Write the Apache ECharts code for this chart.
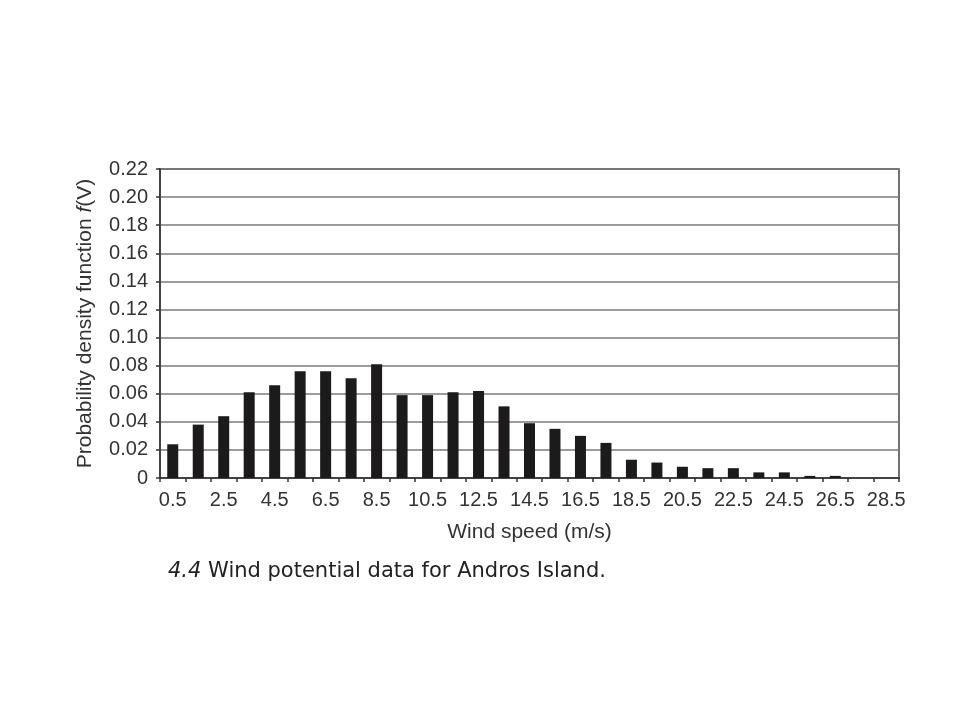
<!DOCTYPE html>
<html>
<head>
<meta charset="utf-8">
<script src="https://cdn.jsdelivr.net/npm/echarts@6/dist/echarts.min.js"></script>
<style>html,body{margin:0;padding:0;background:#fff;}#c{width:960px;height:720px;}</style>
</head>
<body>
<div id="c"></div>
<script>
const categories = ['0.5','1.5','2.5','3.5','4.5','5.5','6.5','7.5','8.5','9.5','10.5','11.5','12.5','13.5','14.5','15.5','16.5','17.5','18.5','19.5','20.5','21.5','22.5','23.5','24.5','25.5','26.5','27.5','28.5'];
const pdfValues = [0.024,0.038,0.044,0.061,0.066,0.076,0.076,0.071,0.081,0.059,0.059,0.061,0.062,0.051,0.039,0.035,0.030,0.025,0.013,0.011,0.008,0.007,0.007,0.004,0.004,0.0015,0.0015,0,0];
const xAxisTitle = 'Wind speed (m/s)';
const captionNumber = '4.4';
const captionText = ' Wind potential data for Andros Island.';

const font = 'Liberation Sans, Arial, Helvetica, sans-serif';
const capFont = 'DejaVu Sans, sans-serif';
const chart = echarts.init(document.getElementById('c'), null, {renderer: 'canvas'});
chart.setOption({
  backgroundColor: '#fff',
  animation: false,
  textStyle: {fontFamily: font},
  title: {
    text: '{i|' + captionNumber + '}{n|' + captionText + '}',
    left: 163, top: 556,
    textStyle: {
      fontWeight: 'normal',
      rich: {
        i: {fontStyle: 'italic', fontWeight: 'normal', fontSize: 21, color: '#222', fontFamily: capFont},
        n: {fontWeight: 'normal', fontSize: 21, color: '#222', fontFamily: capFont}
      }
    }
  },
  grid: {left: 160, right: 61, top: 169, bottom: 242, show: true, borderColor: '#444', borderWidth: 1.5, backgroundColor: 'transparent'},
  xAxis: {
    type: 'category',
    data: categories,
    name: xAxisTitle,
    nameLocation: 'middle',
    nameGap: 44,
    nameTextStyle: {fontSize: 21, color: '#333', fontFamily: font},
    axisLine: {lineStyle: {color: '#333', width: 1.5}},
    axisTick: {show: true, interval: 0, length: 4, lineStyle: {color: '#333', width: 1.5}},
    axisLabel: {interval: 1, fontSize: 20, color: '#333', margin: 12, fontFamily: font},
    splitLine: {show: false}
  },
  yAxis: {
    type: 'value',
    min: 0, max: 0.22, interval: 0.02,
    name: '{n|Probability density function }{i|f}{n|(V)}',
    nameLocation: 'middle',
    nameGap: 64,
    nameRotate: 90,
    nameTextStyle: {
      rich: {
        n: {fontSize: 21, color: '#333', fontFamily: font},
        i: {fontSize: 21, color: '#333', fontStyle: 'italic', fontFamily: font}
      }
    },
    axisLine: {show: true, lineStyle: {color: '#333', width: 1.5}},
    axisTick: {show: true, length: 4, lineStyle: {color: '#333', width: 1.5}},
    axisLabel: {fontSize: 20, color: '#333', margin: 12, fontFamily: font,
      formatter: function (v) { return v === 0 ? '0' : v.toFixed(2); }},
    splitLine: {show: true, lineStyle: {color: '#7a7a7a', width: 1.5}}
  },
  series: [{
    type: 'bar',
    data: pdfValues,
    barWidth: 11,
    itemStyle: {color: '#1c1a1a'}
  }]
});
</script>
</body>
</html>
